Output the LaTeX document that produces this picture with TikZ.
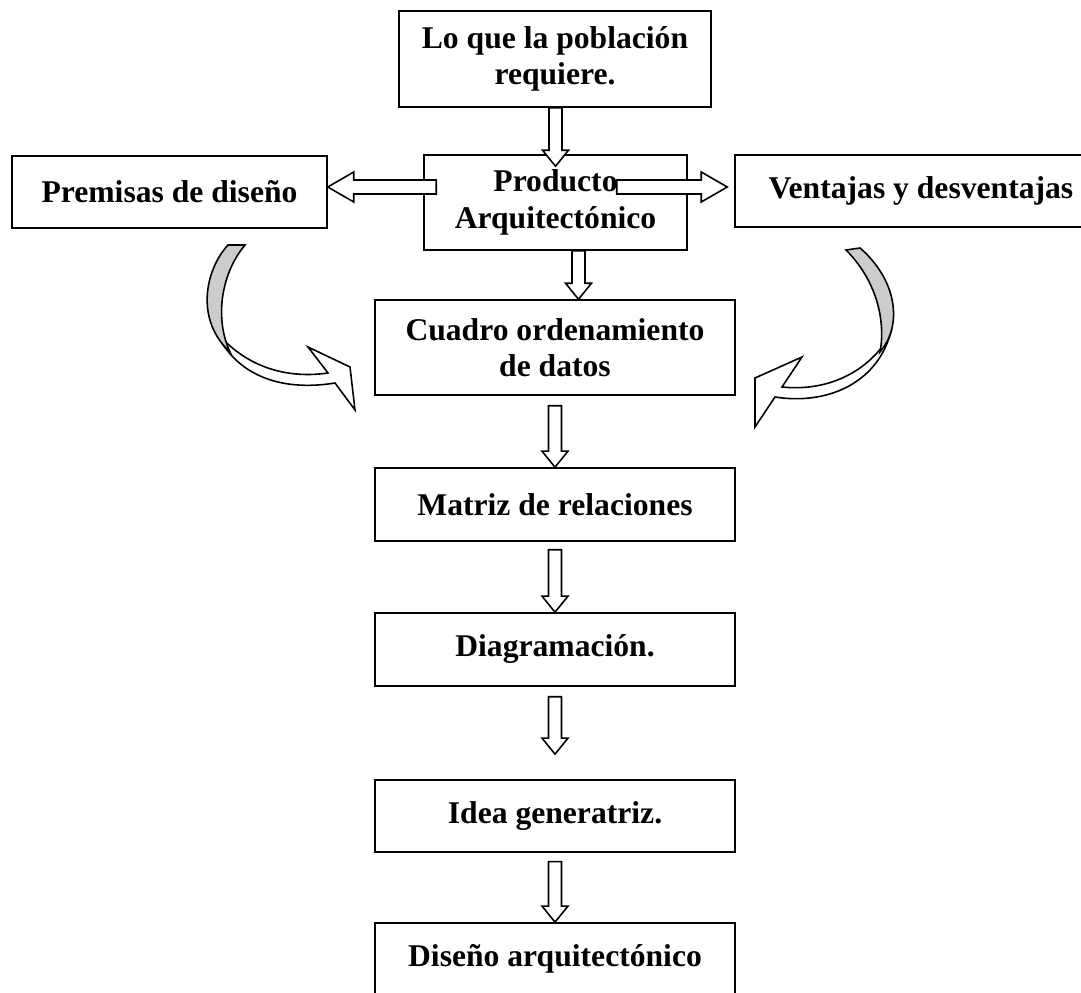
\documentclass[tikz,border=0pt]{standalone}
\usepackage{fontspec}
\setmainfont{Liberation Serif}
\usetikzlibrary{positioning}
\usetikzlibrary{calc}
\tikzset{every picture/.style={line width=0.9pt}}
\tikzset{box/.style={draw, inner sep=0pt, align=center, font=\fontsize{18}{20.7}\selectfont\bfseries}}

% hollow block arrows (tail, tip)
\newcommand{\blockdown}[2]{%
  \draw[fill=white] ($(#1)+(-6.5,0)$) -- ($(#2)+(-6.5,-16)$) -- ($(#2)+(-13,-16)$) -- (#2)
    -- ($(#2)+(13,-16)$) -- ($(#2)+(6.5,-16)$) -- ($(#1)+(6.5,0)$) -- cycle;}
\newcommand{\blockside}[3]{%
  \draw[fill=white] ($(#1)+(0,-7)$) -- ($(#2)+(-26*#3,-7)$) -- ($(#2)+(-26*#3,-15)$) -- (#2)
    -- ($(#2)+(-26*#3,15)$) -- ($(#2)+(-26*#3,7)$) -- ($(#1)+(0,7)$) -- cycle;}

\begin{document}
\begin{tikzpicture}[x=0.02cm, y=-0.02cm]
\clip (0,0) rectangle (1081,993);

\node (req) at (555,59) [box, minimum width=6.24cm, minimum height=1.92cm] {Lo que la población\\requiere.};
\node (prod) at (555.5,202.5) [box, minimum width=5.26cm, minimum height=1.9cm] {Producto\\Arquitectónico};
\node (prem) at (169.5,192) [box, minimum width=6.3cm, minimum height=1.44cm] {Premisas de diseño};
\node (vent) at (921,191) [box, minimum width=7.44cm, minimum height=1.44cm] {Ventajas y desventajas};

\node (cuad) at (555,347.5) [box, minimum width=7.2cm, minimum height=1.9cm] {Cuadro ordenamiento\\de datos};
\node (matr) [below of=cuad, box, minimum width=7.2cm, minimum height=1.46cm, node distance=3.14cm] {Matriz de relaciones};
\node (diag) [below of=matr, box, minimum width=7.2cm, minimum height=1.46cm, node distance=2.9cm] {Diagramación.};
\node (idea) [below of=diag, box, minimum width=7.2cm, minimum height=1.44cm, node distance=3.33cm] {Idea generatriz.};
\node (dise) [below of=idea, box, minimum width=7.2cm, minimum height=1.44cm, node distance=2.86cm] {Diseño arquitectónico};

% straight arrows
\coordinate (a1) at (prod.north |- req.south);
\coordinate (a1e) at ($(prod.north)+(0,12)$);
\blockdown{a1}{a1e}
\coordinate (a2) at ($(prod.west)+(13,-15.5)$);
\coordinate (a2e) at (prem.east |- a2);
\blockside{a2}{a2e}{-1}
\coordinate (a3e) at ($(vent.west |- a2)+(-7,0)$);
\coordinate (a3) at ($(prod.east |- a2)+(-71,0)$);
\blockside{a3}{a3e}{1}
\coordinate (a4) at ($(prod.south)+(23,0)$);
\coordinate (a4e) at (a4 |- cuad.north);
\blockdown{a4}{a4e}
\coordinate (a5) at ($(cuad.south)+(0,10)$);
\coordinate (a5e) at (a5 |- matr.north);
\blockdown{a5}{a5e}
\coordinate (a6) at ($(matr.south)+(0,8)$);
\coordinate (a6e) at (a6 |- diag.north);
\blockdown{a6}{a6e}
\coordinate (a7) at ($(diag.south)+(0,10)$);
\coordinate (a7e) at ($(a7 |- idea.north)+(0,-25)$);
\blockdown{a7}{a7e}
\coordinate (a8) at ($(idea.south)+(0,9)$);
\coordinate (a8e) at (a8 |- dise.north);
\blockdown{a8}{a8e}

% curved arrows
\draw[fill=white] (215,330) .. controls (235,375) and (280,392) .. (335,383) -- (355,410) -- (350,367)
  -- (308,347) -- (328,373) .. controls (280,380) and (240,362) .. (215,330) -- cycle;
\draw[fill=gray!40] (228,245) .. controls (205,270) and (195,320) .. (230,352)
  .. controls (215,320) and (220,275) .. (245,245) -- cycle;
\draw[fill=white] (890,335) .. controls (875,385) and (825,405) .. (775,397) -- (755,427) -- (755,378)
  -- (802,357) -- (782,387) .. controls (830,392) and (870,370) .. (890,335) -- cycle;
\draw[fill=gray!40] (860,248) .. controls (897,280) and (903,325) .. (880,352)
  .. controls (886,320) and (876,280) .. (846,250) -- cycle;
\end{tikzpicture}
\end{document}
